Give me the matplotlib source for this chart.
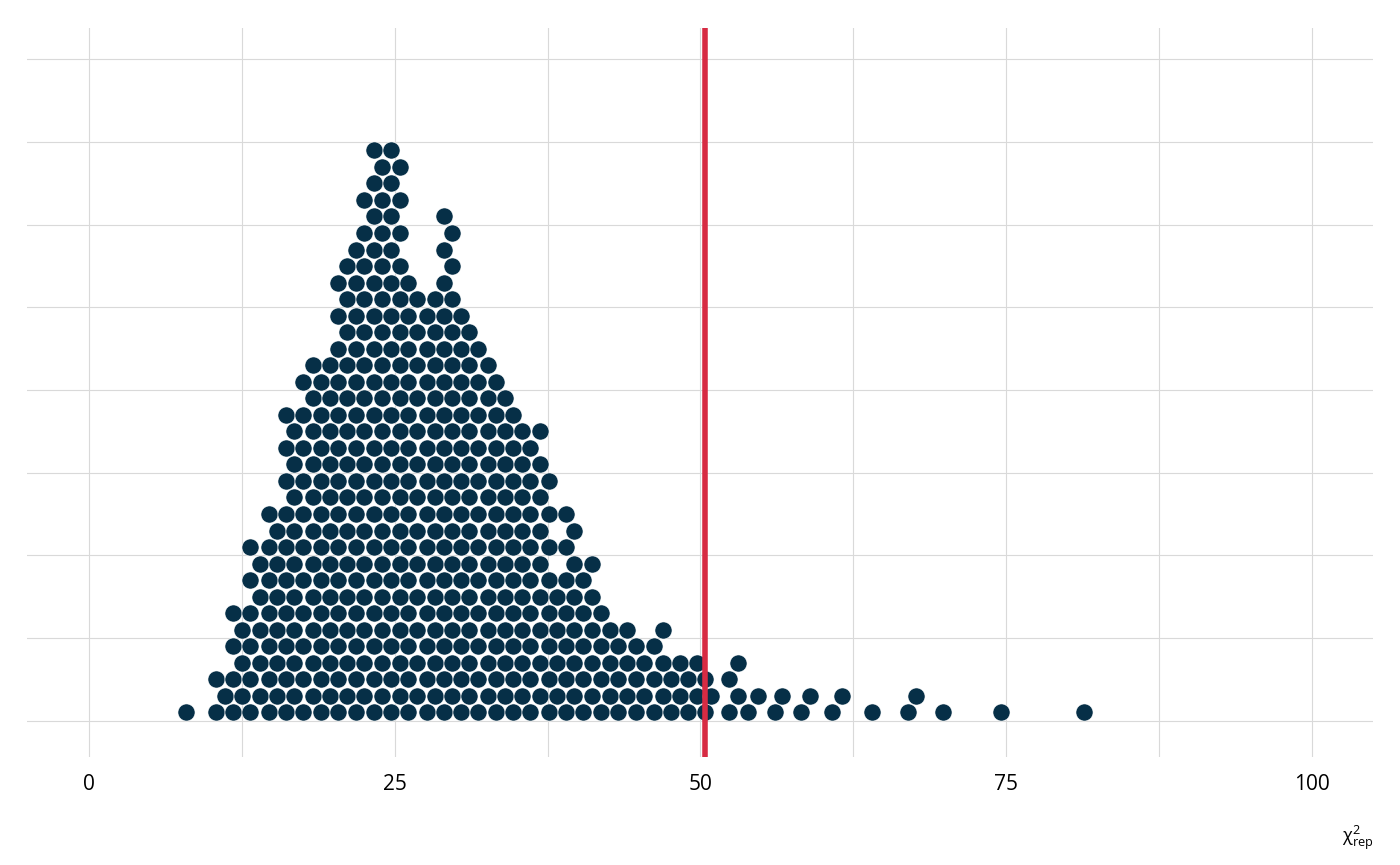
import matplotlib
matplotlib.use("Agg")
import matplotlib.pyplot as plt
import numpy as np

plt.rcParams['font.family'] = ['Open Sans', 'DejaVu Sans']
plt.rcParams['mathtext.fontset'] = 'custom'
plt.rcParams['mathtext.rm'] = 'Open Sans'
plt.rcParams['mathtext.it'] = 'Open Sans:italic'

# dot stacks: x position, lowest row, highest row (dots every other row)
col_x = [7.9, 10.4, 11.1, 11.8, 12.5, 13.2, 14.0, 14.7, 15.4, 16.1, 16.8, 17.5, 18.3,
         19.0, 19.7, 20.4, 21.1, 21.8, 22.5, 23.3, 24.0, 24.7, 25.4, 26.1, 26.8,
         27.6, 28.3, 29.0, 29.7, 30.4, 31.1, 31.8, 32.6, 33.3, 34.0, 34.7, 35.4,
         36.1, 36.9, 37.6, 38.3, 39.0, 39.7, 40.4, 41.1, 41.9, 42.6, 43.3, 44.0,
         44.7, 45.4, 46.2, 46.9, 47.6, 48.3, 49.0, 49.7, 50.4,
         50.9, 52.3, 53.1, 53.9, 54.7, 56.1, 56.7, 58.2, 59.0, 60.8, 61.6,
         64.0, 67.0, 67.6, 69.8, 74.6, 81.4]
col_base = [0, 0, 1, 0, 1, 0, 1, 0, 1, 0, 1, 0, 1,
            0, 1, 0, 1, 0, 1, 0, 1, 0, 1, 0, 1,
            0, 1, 0, 1, 0, 1, 0, 1, 0, 1, 0, 1,
            0, 1, 0, 1, 0, 1, 0, 1, 0, 1, 0, 1,
            0, 1, 0, 1, 0, 1, 0, 1, 0,
            1, 0, 1, 0, 1, 0, 1, 0, 1, 0, 1,
            0, 0, 1, 0, 0, 0]
col_top = [0, 2, 1, 6, 5, 10, 9, 12, 11, 18, 17, 20, 21,
           20, 21, 26, 27, 28, 31, 34, 33, 34, 33, 26, 25,
           24, 25, 30, 29, 24, 23, 22, 21, 20, 19, 18, 17,
           16, 17, 14, 7, 12, 11, 8, 9, 6, 5, 4, 5,
           4, 3, 4, 5, 2, 3, 2, 3, 2,
           1, 2, 3, 0, 1, 0, 1, 0, 1, 0, 1,
           0, 0, 1, 0, 0, 0]
observed = 50.4

xs, ys = [], []
for x, b, t in zip(col_x, col_base, col_top):
    for r in range(b, t + 1, 2):
        xs.append(x)
        ys.append(r)

fig = plt.figure(figsize=(14, 8.65), dpi=100)
ax = fig.add_axes([27 / 1400, 1 - 757 / 865, 1346 / 1400, 729 / 865])
ax.set_xlim(-5.07, 105.0)
ax.set_ylim(-2.7, 41.4)

ax.set_xticks([0, 25, 50, 75, 100])
ax.set_xticks([12.5, 37.5, 62.5, 87.5], minor=True)
ax.set_yticks(np.arange(-0.5, 40, 5))
ax.set_yticklabels([])
ax.grid(True, which='both', color='#d9d9d9', linewidth=0.8)
ax.set_axisbelow(True)
ax.tick_params(which='both', length=0, labelsize=15, pad=12)
for s in ax.spines.values():
    s.set_visible(False)

ax.plot(xs, ys, 'o', color='#062f47', markersize=12.3,
        markeredgecolor='white', markeredgewidth=0.4, linestyle='none')
ax.axvline(observed, color='#d72b43', linewidth=4)

fig.text(1373 / 1400, 1 - 838 / 865, r'χ$^2_{\mathrm{rep}}$', ha='right', va='center', fontsize=13)

fig.savefig('out.png', dpi=100)
